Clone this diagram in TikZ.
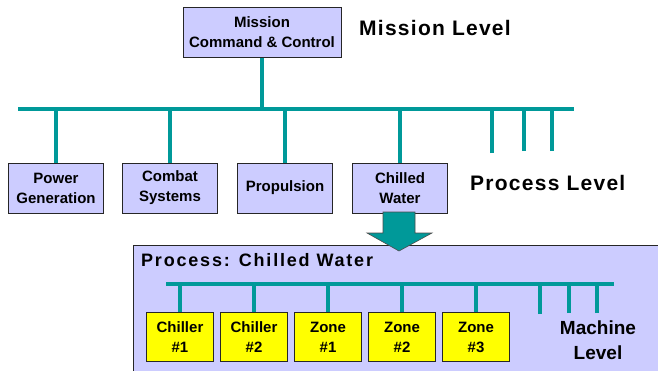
\documentclass[tikz,border=0pt]{standalone}
\usepackage{fontspec}
\setmainfont{Liberation Sans}
\newfontfamily\lvlfont[LetterSpace=6]{Liberation Sans}
\newfontfamily\headfont[LetterSpace=10]{Liberation Sans}
\definecolor{busteal}{HTML}{009999}
\definecolor{boxlav}{HTML}{CCCCFF}
\definecolor{unityel}{HTML}{FFFF00}
\begin{document}
\begin{tikzpicture}[x=1pt,y=-1pt,
        proc/.style={draw=black!85,line width=1pt,fill=boxlav,minimum width=95pt,minimum height=50pt,
            inner sep=0pt,align=center,font=\bfseries\fontsize{15}{20}\selectfont},
        unit/.style={proc,fill=unityel,minimum width=67pt,minimum height=49pt},
        bus/.style={draw=busteal,line width=3.5pt},
        lvl/.style={inner sep=0pt,font=\lvlfont\bfseries\fontsize{21}{25}\selectfont}]
    \useasboundingbox (0,0) rectangle (658,370);
    % mission level
    \node[proc,minimum width=158pt] (mcc) at (262,32) {Mission\\Command \& Control};
    \node[lvl,anchor=west] (mlvl) at (359,28) {Mission Level};
    \coordinate (busL) at (18,109);
    \coordinate (busR) at (574,109);
    \draw[bus] (busL) -- (busR);
    \draw[bus] (mcc.south) -- (mcc.south |- busL);
    % process level
    \node[proc] (pg) at (56,188) {Power\\Generation};
    \node[proc] (cs) at (170,188) {Combat\\Systems};
    \node[proc] (pr) at (285,188) {Propulsion};
    \node[proc] (cw) at (400,188) {Chilled\\Water};
    \node[lvl,anchor=west] (plvl) at (470,183) {Process Level};
    \foreach \n in {pg,cs,pr,cw}
        \draw[bus] (\n.north) -- (\n.north |- busL);
    \coordinate (ps1) at (492,153);
    \coordinate (ps2) at (524,151);
    \coordinate (ps3) at (552,151);
    \foreach \n in {ps1,ps2,ps3}
        \draw[bus] (\n) -- (\n |- busL);
    % chilled water process
    \draw[fill=boxlav,draw=black!85,line width=0.8pt] (133,245) rectangle (690,400);
    \fill[busteal,draw=black!70,line width=0.6pt] (383,212) -- (415,212) -- (415,233) -- (432,233)
        -- (399,251) -- (367,233) -- (383,233) -- cycle;
    \node[inner sep=0pt,anchor=west,font=\headfont\bfseries\fontsize{18}{22}\selectfont] (chw) at (141,260) {Process: Chilled Water};
    \coordinate (mbusL) at (166,284);
    \coordinate (mbusR) at (614,284);
    \draw[bus] (mbusL) -- (mbusR);
    \node[unit] (ch1) at (180,337) {Chiller\\\#1};
    \node[unit] (ch2) at (254,337) {Chiller\\\#2};
    \node[unit] (zn1) at (328,337) {Zone\\\#1};
    \node[unit] (zn2) at (402,337) {Zone\\\#2};
    \node[unit] (zn3) at (476,337) {Zone\\\#3};
    \foreach \n in {ch1,ch2,zn1,zn2,zn3}
        \draw[bus] (\n.north) -- (\n.north |- mbusL);
    \coordinate (ms1) at (540,314);
    \coordinate (ms2) at (569,313);
    \coordinate (ms3) at (597,313);
    \foreach \n in {ms1,ms2,ms3}
        \draw[bus] (\n) -- (\n |- mbusL);
    \node[inner sep=0pt,align=center,font=\bfseries\fontsize{19}{25}\selectfont] (mlevel) at (598,340) {Machine\\Level};
\end{tikzpicture}
\end{document}
